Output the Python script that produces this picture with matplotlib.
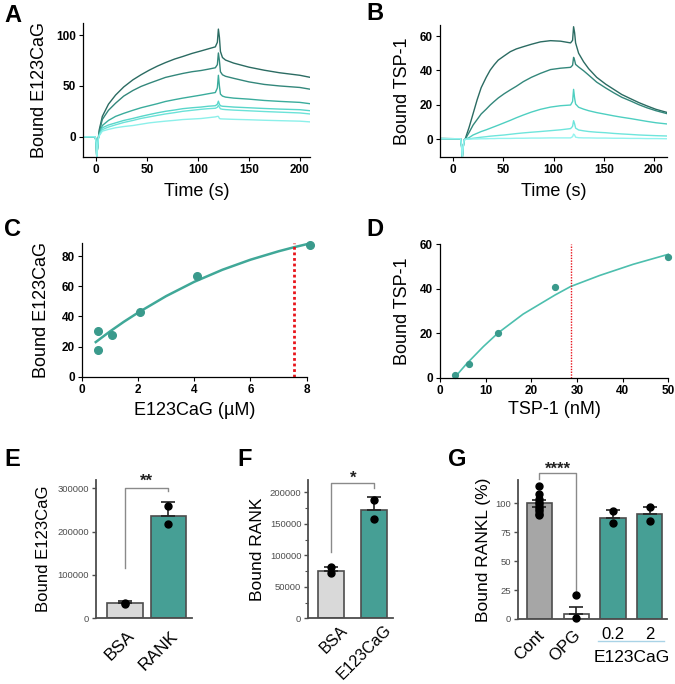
import numpy as np
import matplotlib.pyplot as plt
import matplotlib.transforms as mtransforms
from matplotlib.ticker import MultipleLocator, FormatStrFormatter

plt.rcParams['font.family'] = ['Liberation Sans', 'DejaVu Sans']

# ---------------- data ----------------
# A: E123CaG binding sensorgrams (6 concentrations)
a_time_pre = [-13, -1, 0, 0.5, 1, 2]
a_resp_pre = [0, 0, -6, -20, -14, -2]
a_time = [3, 6, 12, 19, 27, 36, 44, 52, 60, 68, 77, 85, 94, 103, 110, 117,
          119, 120, 121, 122, 124, 127, 135, 150, 165, 180, 200, 210]
a_resp = [
    [7, 20, 32, 41, 49, 56, 61, 65.5, 69.5, 73, 76.5, 79, 82, 84.5, 86.5, 88.5,
     93, 106, 98, 84, 78, 75.5, 72.5, 68.5, 65.5, 63, 60.5, 58.5],
    [5, 17, 26, 33, 40, 45.5, 49.5, 52.6, 55.5, 58.4, 60.5, 62.3, 64, 65.2, 66.5, 67.9,
     71, 82.5, 75, 64, 61, 59.5, 57.5, 54, 51.5, 50, 48.5, 46.8],
    [3, 11, 16, 20, 23, 26, 28.5, 30.5, 32.5, 34.7, 36.5, 38, 39.5, 41, 42.3, 43.5,
     48, 60.5, 50, 42, 40, 39, 38, 37, 35.7, 34.8, 33.8, 32.5],
    [2, 8.8, 11.5, 13.6, 16, 18, 20, 21.8, 23.5, 25, 26.3, 27.6, 28.5, 29.2, 30, 30.5,
     32, 35, 32, 30.5, 30, 29.8, 29.2, 28.5, 27.8, 27.2, 26.6, 25.6],
    [1.5, 7, 9.5, 11.7, 14, 16, 18, 19.5, 21, 22.4, 23.7, 25, 26, 27, 27.6, 28,
     29, 31, 29, 27.5, 27, 26.7, 26.2, 25.5, 24.8, 24.2, 23.4, 22.4],
    [1, 5.5, 7.2, 8.8, 10, 11, 12.3, 13.6, 14.5, 15.3, 16.1, 16.9, 17.4, 17.9, 18.7, 19.5,
     20, 20, 18, 17.6, 17.5, 17.4, 17.1, 16.7, 16.2, 15.8, 15.3, 14.6],
]
a_colors = ['#2b6b62', '#33877b', '#3aac9c', '#58d6ca', '#6be2d8', '#8cf0ea']

# B: TSP-1 binding sensorgrams (5 concentrations)
b_time_pre = [-13, 7.5, 8.5, 9.2, 10, 11]
b_resp_pre = [0.4, 0.3, -4, -10.5, -5, -0.5]
b_time = [12, 16, 20, 24, 28, 33, 37, 41, 45, 51, 57, 63, 70, 78, 87, 97, 107, 117,
          119, 120, 121, 122, 125, 130, 135, 143, 152, 160, 168, 177, 185, 193, 202, 213]
b_resp = [
    [0, 7, 15, 23, 30, 36, 40.2, 43.3, 46, 48.5, 50.9, 52.5, 53.8, 55.2, 56.6, 57.3, 57, 56,
     57.5, 65.4, 62, 56, 50, 45, 41, 36, 32, 29, 26, 23.5, 21.3, 19.4, 17.4, 15.6],
    [0, 4, 8.3, 11.5, 14.7, 17.5, 19.9, 22, 24, 26.5, 28.7, 30.8, 33.5, 36, 38.3, 40.5, 41.3, 41.8,
     43, 47.6, 46, 43.5, 42, 39.8, 37.3, 33.2, 29.8, 27, 24.4, 22.2, 20.1, 18.3, 16.6, 14.9],
    [0, 1, 2.5, 3.5, 4.5, 5.5, 6.4, 7.3, 8.2, 9.6, 11, 12.5, 14.1, 15.8, 17.4, 18.7, 19.5, 19.9,
     22, 29, 24, 20.5, 18.6, 17.5, 16.6, 15.5, 14.5, 13.6, 12.8, 12, 11.2, 10.4, 9.6, 8.9],
    [0, 0.2, 0.6, 0.9, 1.2, 1.5, 1.8, 2.0, 2.2, 2.5, 2.9, 3.3, 3.7, 4.1, 4.5, 5.0, 5.5, 6.2,
     7.5, 10.8, 9, 6.5, 5.4, 4.9, 4.5, 4.1, 3.8, 3.4, 3.1, 2.8, 2.5, 2.3, 2.1, 1.9],
    [0, 0.1, 0.2, 0.2, 0.3, 0.3, 0.4, 0.4, 0.5, 0.5, 0.5, 0.6, 0.6, 0.7, 0.7, 0.8, 0.8, 0.8,
     1.5, 3, 2.5, 1.2, 0.9, 0.8, 0.8, 0.7, 0.7, 0.6, 0.6, 0.5, 0.5, 0.4, 0.4, 0.3],
]
b_colors = ['#2b6b62', '#33877b', '#4ecfc1', '#6ee5dc', '#93f3ef']

# C: steady-state E123CaG
c_conc = [0.57, 0.57, 1.09, 2.07, 4.09, 8.1]
c_bound = [30.3, 17.7, 27.8, 43.3, 66.9, 87.7]
c_fit_x = [0.5, 1, 1.5, 2, 3, 4, 5, 6, 7, 7.55, 8]
c_fit_y = [23, 30, 36.5, 42.5, 53.5, 63, 71, 77.7, 83.3, 86, 88]
c_kd = 7.55

# D: steady-state TSP-1
d_conc = [3.3, 6.4, 12.7, 25.2, 50.0]
d_bound = [1.3, 6.2, 20.1, 40.8, 54.5]
d_fit_x = [3.3, 5.8, 9.5, 12.7, 18.2, 25.2, 28.6, 35, 42.3, 50]
d_fit_y = [0.3, 6.2, 14, 20.1, 28.6, 37.2, 41, 46, 51, 55.5]
d_kd = 28.6

# E: bound E123CaG on BSA / RANK
e_labels = ['BSA', 'RANK']
e_means = [34600, 236000]
e_err = [4600, 31700]
e_points = [[36000, 33500], [259000, 218000]]

# F: bound RANK on BSA / E123CaG
f_labels = ['BSA', 'E123CaG']
f_means = [75000, 171400]
f_err = [7000, 21600]
f_points = [[81000, 71500], [187000, 157000]]

# G: RANKL binding (%)
g_labels = ['Cont', 'OPG', '0.2', '2']
g_means = [100, 4.3, 87.6, 90.7]
g_err = [3, 5.8, 6.4, 6.3]
g_points = [[115, 108, 104, 101, 99, 97, 95, 93, 91, 90], [20.5, 1.0], [93, 82.7], [97, 85]]

teal = '#469f95'
W, H = 675, 684
fig = plt.figure(figsize=(W / 100, H / 100), dpi=100)


def px_axes(l, t, r, b):
    return fig.add_axes([l / W, 1 - b / H, (r - l) / W, (b - t) / H])


def style_line_axes(ax):
    for s in ['top', 'right']:
        ax.spines[s].set_visible(False)
    for s in ['left', 'bottom']:
        ax.spines[s].set_linewidth(0.9)
    ax.tick_params(direction='out', length=3, width=0.8, labelsize=8.5, pad=2)
    for lab in ax.get_xticklabels() + ax.get_yticklabels():
        lab.set_fontweight('bold')


def style_bar_axes(ax):
    for s in ['top', 'right']:
        ax.spines[s].set_visible(False)
    for s in ['left', 'bottom']:
        ax.spines[s].set_linewidth(1.3)
        ax.spines[s].set_color('#4d4d4d')
    ax.tick_params(axis='y', direction='out', length=3, width=1, labelsize=6.8,
                   colors='#4d4d4d', pad=2)
    ax.tick_params(axis='x', length=0)


def panel_letter(x, y, s):
    fig.text(x / W, 1 - y / H, s, fontsize=17, fontweight='bold', ha='center', va='center')


# ---------- A ----------
axA = px_axes(83, 23, 310, 157)
for resp, col in zip(a_resp, a_colors):
    axA.plot(a_time_pre + a_time, a_resp_pre + resp, color=col, lw=1.0)
axA.set_xlim(-13, 210)
axA.set_ylim(-20, 112)
axA.set_xticks([0, 50, 100, 150, 200])
axA.set_yticks([0, 50, 100])
style_line_axes(axA)
axA.set_xlabel('Time (s)', fontsize=13, va='center')
axA.xaxis.set_label_coords(0.5, -35 / 134)
axA.set_ylabel('Bound E123CaG', fontsize=13, va='center')
axA.yaxis.set_label_coords(-43 / 227, 0.5)

# ---------- B ----------
axB = px_axes(440, 25, 667, 157)
for resp, col in zip(b_resp, b_colors):
    axB.plot(b_time_pre + b_time, b_resp_pre + resp, color=col, lw=1.0)
axB.set_xlim(-13, 213)
axB.set_ylim(-10.3, 66.4)
axB.set_xticks([0, 50, 100, 150, 200])
axB.set_yticks([0, 20, 40, 60])
style_line_axes(axB)
axB.set_xlabel('Time (s)', fontsize=13, va='center')
axB.xaxis.set_label_coords(0.5, -35 / 132)
axB.set_ylabel('Bound TSP-1', fontsize=13, va='center')
axB.yaxis.set_label_coords(-38 / 227, 0.5)

# ---------- C ----------
axC = px_axes(81.7, 242.7, 306.7, 376.7)
axC.plot(c_fit_x, c_fit_y, color='#40a898', lw=1.8, clip_on=False)
axC.plot(c_conc, c_bound, 'o', color='#3a9a8c', ms=5.5, clip_on=False)
axC.plot([c_kd, c_kd], [0, 89], color='#e8141b', lw=2, ls=(0, (1, 1)))
axC.set_xlim(0, 8)
axC.set_ylim(0, 89)
axC.set_xticks([0, 2, 4, 6, 8])
axC.set_yticks([0, 20, 40, 60, 80])
style_line_axes(axC)
axC.set_xlabel('E123CaG (µM)', fontsize=13, va='center')
axC.xaxis.set_label_coords(0.5, -34 / 134)
axC.set_ylabel('Bound E123CaG', fontsize=13, va='center')
axC.yaxis.set_label_coords(-40 / 225, 0.5)

# ---------- D ----------
axD = px_axes(440, 244.3, 668.3, 377.7)
axD.plot(d_fit_x, d_fit_y, color='#4dbfae', lw=1.2, clip_on=False)
axD.plot(d_conc, d_bound, 'o', color='#3a9a8c', ms=4.2, clip_on=False)
axD.plot([d_kd, d_kd], [0, 60], color='#e8141b', lw=1, ls=(0, (1, 1)))
axD.set_xlim(0, 50)
axD.set_ylim(0, 60)
axD.set_xticks([0, 10, 20, 30, 40, 50])
axD.set_yticks([0, 20, 40, 60])
style_line_axes(axD)
axD.set_xlabel('TSP-1 (nM)', fontsize=13, va='center')
axD.xaxis.set_label_coords(0.5, -32 / 133.4)
axD.set_ylabel('Bound TSP-1', fontsize=13, va='center')
axD.yaxis.set_label_coords(-37.5 / 228.3, 0.5)


def bar_panel(ax, means, err, points, colors, width, lower_err=None):
    x = np.arange(len(means))
    ax.bar(x, means, width=width, color=colors, edgecolor='#4d4d4d', lw=1.2, zorder=2)
    lo = lower_err if lower_err is not None else [0] * len(means)
    ax.errorbar(x, means, yerr=[lo, err], fmt='none', ecolor='#222222', elinewidth=1.2,
                capsize=5, capthick=1.2, zorder=3)
    for xi, pts in zip(x, points):
        ax.plot([xi] * len(pts), pts, 'o', color='black', ms=5, zorder=4, clip_on=False)
    return x


def bracket(ax, x0, x1, y_left, y_top, y_right, text, ty):
    ax.plot([x0, x0, x1, x1], [y_left, y_top, y_top, y_right], color='#8a8a8a', lw=1,
            clip_on=False)
    ax.text((x0 + x1) / 2, ty, text, ha='center', va='bottom', fontsize=12,
            fontweight='bold', color='#222222')


def offset_labels(labels, dx_px):
    off = mtransforms.ScaledTranslation(dx_px / 100, 0, fig.dpi_scale_trans)
    for lab in labels:
        lab.set_transform(lab.get_transform() + off)


# ---------- E ----------
axE = px_axes(95.7, 480, 192, 618.3)
xE = bar_panel(axE, e_means, e_err, e_points, ['#d9d9d9', teal], 0.82)
axE.set_xlim(-0.68, 1.55)
axE.set_ylim(0, 319000)
axE.set_yticks([0, 100000, 200000, 300000])
axE.yaxis.set_major_formatter(FormatStrFormatter('%d'))
style_bar_axes(axE)
axE.set_xticks(xE, e_labels, rotation=45, ha='right', rotation_mode='anchor', fontsize=12.5)
axE.tick_params(axis='x', pad=7)
offset_labels(axE.get_xticklabels(), 2)
bracket(axE, 0, 1, 117000, 301000, 294000, '**', 298000)
axE.set_ylabel('Bound E123CaG', fontsize=12, va='center')
axE.yaxis.set_label_coords(-51.7 / 96.3, 0.5)

# ---------- F ----------
axF = px_axes(308.3, 480, 393, 618.3)
xF = bar_panel(axF, f_means, f_err, f_points, ['#d9d9d9', teal], 0.6)
axF.set_xlim(-0.53, 1.43)
axF.set_ylim(0, 219500)
axF.set_yticks([0, 50000, 100000, 150000, 200000])
axF.yaxis.set_minor_locator(MultipleLocator(25000))
axF.yaxis.set_major_formatter(FormatStrFormatter('%d'))
style_bar_axes(axF)
axF.tick_params(axis='y', which='minor', length=2, width=0.8, colors='#4d4d4d')
axF.set_xticks(xF, f_labels, rotation=45, ha='right', rotation_mode='anchor', fontsize=11.5)
axF.tick_params(axis='x', pad=3)
offset_labels(axF.get_xticklabels(), 9)
bracket(axF, 0, 1, 105700, 214000, 207000, '*', 211000)
axF.set_ylabel('Bound RANK', fontsize=12.5, va='center')
axF.yaxis.set_label_coords(-50.8 / 84.7, 0.5)

# ---------- G ----------
axG = px_axes(517.7, 480, 666.7, 619)
xG = bar_panel(axG, g_means, g_err, g_points, ['#a6a6a6', 'white', teal, teal], 0.69,
               lower_err=[3, 0, 0, 0])
axG.set_xlim(-0.59, 3.46)
axG.set_ylim(0, 120)
axG.set_yticks([0, 25, 50, 75, 100])
style_bar_axes(axG)
axG.set_xticks(xG, g_labels, fontsize=12)
axG.tick_params(axis='x', pad=6)
for lab in axG.get_xticklabels()[:2]:
    lab.set_rotation(45)
    lab.set_ha('right')
    lab.set_rotation_mode('anchor')
offset_labels(axG.get_xticklabels()[:2], -3)
bracket(axG, 0, 1, 120.5, 126, 23.6, '****', 123)
axG.plot([1.58, 3.4], [-19.3, -19.3], color='#a9d3e6', lw=1, clip_on=False)
axG.text(2.5, -33.5, 'E123CaG', ha='center', va='center', fontsize=12.5)
axG.set_ylabel('Bound RANKL (%)', fontsize=12.5, va='center')
axG.yaxis.set_label_coords(-34.4 / 149, 0.5)

panel_letter(12.5, 15, 'A')
panel_letter(375, 13, 'B')
panel_letter(12.5, 229, 'C')
panel_letter(375, 229, 'D')
panel_letter(12.5, 459, 'E')
panel_letter(245, 459, 'F')
panel_letter(457, 459, 'G')

fig.savefig('out.png', dpi=100)
